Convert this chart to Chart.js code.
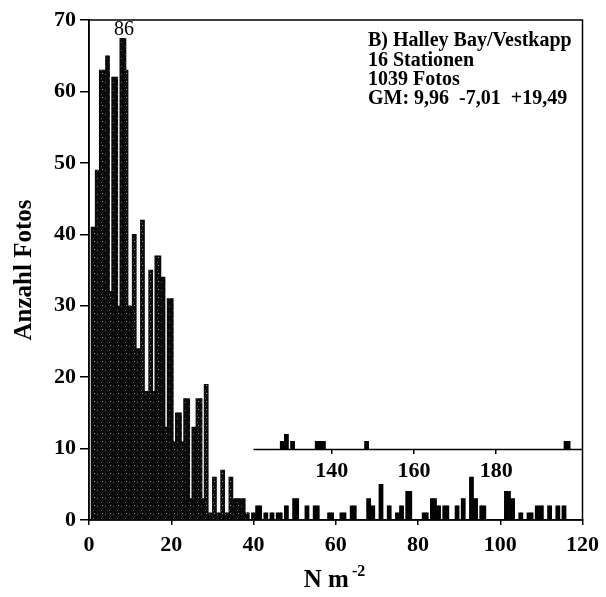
<!DOCTYPE html>
<html lang="de">
<head>
<meta charset="utf-8">
<title>Anzahl Fotos – Halley Bay/Vestkapp</title>
<script src="https://cdn.jsdelivr.net/npm/chart.js@4.4.1/dist/chart.umd.min.js"></script>
<style>
  html, body { margin: 0; padding: 0; background: #fff; }
</style>
</head>
<body>
<canvas id="chart-dichte" width="606" height="597"></canvas>
<script>
// Klassenbreite 0,5 N m-2, Wert = Anzahl Fotos je Klasse
var KLASSE = 0.5;

// Klassen 0 bis 40 N m-2 (Klassenanfang 0, 0.5, 1, ...)
var anzahlBis40 = [
    0, 41, 41, 49, 49, 63, 63, 63, 65, 65,
   32, 62, 62, 62, 30, 86, 86, 86, 63, 30,
   30, 40, 40, 24, 24, 42, 42, 18, 18, 35,
   35, 18, 37, 37, 37, 34, 34, 13, 31, 31,
   31, 11, 15, 15, 15, 11, 17, 17, 17,  3,
   13, 13, 17, 17, 17,  3, 19, 19,  1,  1,
    6,  6,  1,  1,  7,  7,  1,  1,  6,  6,
    3,  3,  3,  3,  3,  3,  1,  1,  0,  1
];

// Klassen 40 bis 120 N m-2
var anzahlAb40 = [
  1, 2, 2, 2, 0, 1, 1, 0, 1, 1,
  0, 1, 1, 1, 0, 2, 2, 0, 0, 3,
  3, 3, 0, 0, 0, 2, 2, 0, 0, 2,
  2, 2, 0, 0, 0, 0, 1, 1, 1, 0,
  0, 0, 1, 1, 1, 0, 0, 2, 2, 2,
  0, 0, 0, 0, 0, 3, 3, 2, 2, 0,
  0, 5, 5, 0, 0, 2, 2, 0, 0, 1,
  1, 2, 2, 0, 4, 4, 4, 0, 0, 0,
  0, 0, 1, 1, 1, 0, 3, 3, 3, 2,
  2, 0, 2, 2, 2, 0, 0, 0, 2, 2,
  0, 3, 3, 0, 0, 6, 6, 3, 3, 0,
  2, 2, 2, 0, 0, 0, 0, 0, 0, 0,
  0, 0, 4, 4, 4, 3, 3, 0, 0, 1,
  1, 0, 0, 1, 1, 1, 0, 2, 2, 2,
  2, 0, 0, 2, 2, 0, 0, 2, 2, 0,
  2, 2, 0, 0, 0, 0, 0, 0, 0, 0
];

// Werte über 120 N m-2 (Klassenanfang, Anzahl), eigene Achse auf Höhe y = 10
var ueber120Dichte = [127.5, 128, 128.5, 129, 130, 130.5, 136, 136.5, 137, 137.5, 138, 148, 148.5, 196.5, 197, 197.5];
var ueber120Anzahl = [1, 1, 2, 2, 1, 1, 1, 1, 1, 1, 1, 1, 1, 1, 1, 1];

var yTicks = [0, 10, 20, 30, 40, 50, 60, 70];
var xTicks = [0, 20, 40, 60, 80, 100, 120];
var insetTicks = [140, 160, 180];

var INSET_VON = 121;
var INSET_BIS = 201;
var INSET_Y = 10;
var Y_MAX = 70;
var KAPPE = 18; // hoechster Balken wird so viele px unter dem Rand abgeschnitten

var infoZeilen = ['B) Halley Bay/Vestkapp', '16 Stationen', '1039 Fotos', 'GM: 9,96  -7,01  +19,49'];

var SCHRIFT = 'Liberation Serif, Times New Roman, serif';

function klassen(werte, start) {
    return werte.map(function(n, i) {
        return { x: start + i * KLASSE + KLASSE / 2, y: n };
    });
}

// gepunktetes Schwarz wie im Druck
function punktMuster() {
    var c = document.createElement('canvas');
    c.width = 8; c.height = 8;
    var g = c.getContext('2d');
    g.fillStyle = '#0a0a0a';
    g.fillRect(0, 0, 8, 8);
    g.fillStyle = '#5e5e5e';
    g.fillRect(1, 2, 1, 1);
    g.fillRect(5, 6, 1, 1);
    g.fillStyle = '#9a9a9a';
    g.fillRect(6, 1, 1, 1);
    return g.createPattern(c, 'repeat');
}

var rahmen = {
    id: 'rahmen',
    afterDraw: function(chart) {
        var ctx = chart.ctx, a = chart.chartArea;
        ctx.save();
        ctx.strokeStyle = '#000';
        ctx.lineWidth = 1.5;
        ctx.strokeRect(a.left, a.top, a.right - a.left, a.bottom - a.top);

        // Grundlinie der Achse ueber 120
        var x2 = chart.scales.x2, y = chart.scales.y;
        var yl = Math.round(y.getPixelForValue(INSET_Y)) + 0.5;
        ctx.beginPath();
        ctx.moveTo(x2.getPixelForValue(INSET_VON), yl);
        ctx.lineTo(x2.getPixelForValue(INSET_BIS), yl);
        ctx.stroke();

        // Wert des abgeschnittenen Balkens
        var meta = chart.getDatasetMeta(0);
        var max = Math.max.apply(null, anzahlBis40);
        var xs = [];
        anzahlBis40.forEach(function(n, i) { if (n === max) xs.push(meta.data[i].x); });
        var xm = xs.reduce(function(s, v) { return s + v; }, 0) / xs.length;
        ctx.fillStyle = '#000';
        ctx.font = 'normal 20px ' + SCHRIFT;
        ctx.textAlign = 'center';
        ctx.textBaseline = 'bottom';
        ctx.fillText(String(max), xm + 1, a.top + KAPPE + 2);

        // Beschriftung oben rechts
        ctx.font = 'bold 20px ' + SCHRIFT;
        ctx.textAlign = 'left';
        ctx.textBaseline = 'middle';
        infoZeilen.forEach(function(t, i) {
            ctx.fillText(t, 368, 41 + i * 19.4);
        });

        // Achsentitel
        ctx.font = 'bold 25px ' + SCHRIFT;
        ctx.textAlign = 'center';
        ctx.save();
        ctx.translate(25, 270);
        ctx.rotate(-Math.PI / 2);
        ctx.fillText('Anzahl Fotos', 0, 0);
        ctx.restore();

        var haupt = 'N m', hoch = '-2';
        ctx.font = 'bold 25px ' + SCHRIFT;
        var w1 = ctx.measureText(haupt + ' ').width;
        ctx.font = 'bold 16px ' + SCHRIFT;
        var w2 = ctx.measureText(hoch).width;
        var x0 = 336 - (w1 + w2) / 2;
        ctx.textAlign = 'left';
        ctx.font = 'bold 25px ' + SCHRIFT;
        ctx.fillText(haupt, x0, 581);
        ctx.font = 'bold 16px ' + SCHRIFT;
        ctx.fillText(hoch, x0 + w1 - 3, 572);
        ctx.restore();
    }
};

var tickFont = { family: SCHRIFT, weight: 'bold', size: 22 };

var ctx = document.getElementById('chart-dichte').getContext('2d');
var chart = new Chart(ctx, {
    type: 'bar',
    data: {
        datasets: [{
            label: '0-40',
            data: klassen(anzahlBis40, 0),
            backgroundColor: punktMuster(),
            borderWidth: 0,
            clip: { left: 0, top: -KAPPE, right: 0, bottom: 0 }
        },
        {
            label: '40-120',
            data: klassen(anzahlAb40, 40),
            backgroundColor: '#000',
            borderWidth: 0
        },
        {
            label: '>120',
            xAxisID: 'x2',
            data: ueber120Dichte.map(function(d, i) {
                return { x: d + KLASSE / 2, y: [INSET_Y, INSET_Y + ueber120Anzahl[i]] };
            }),
            backgroundColor: '#000',
            borderWidth: 0
        }]
    },
    options: {
        responsive: false,
        animation: false,
        devicePixelRatio: 1,
        layout: { padding: { left: 0, right: 19, top: 20, bottom: 0 } },
        datasets: {
            bar: { grouped: false, barPercentage: 1, categoryPercentage: 1 }
        },
        plugins: {
            legend: { display: false },
            tooltip: { enabled: false }
        },
        scales: {
            x: {
                type: 'linear',
                min: 0,
                max: 120,
                offset: false,
                afterBuildTicks: function(ax) { ax.ticks = xTicks.map(function(v) { return { value: v }; }); },
                ticks: { color: '#000', font: tickFont, padding: 7, maxRotation: 0, autoSkip: false },
                grid: { display: true, drawOnChartArea: false, drawTicks: true, tickLength: 5, color: '#000', lineWidth: 1.5, offset: false },
                border: { display: true, color: '#000', width: 1.5 },
                afterFit: function(ax) { ax.height = 77; }
            },
            x2: {
                type: 'linear',
                position: { y: INSET_Y },
                min: INSET_VON - 40,
                max: INSET_BIS,
                offset: false,
                afterBuildTicks: function(ax) { ax.ticks = insetTicks.map(function(v) { return { value: v }; }); },
                ticks: { color: '#000', font: tickFont, padding: 5, maxRotation: 0, autoSkip: false },
                grid: { display: true, drawOnChartArea: false, drawTicks: true, tickLength: 5, color: '#000', lineWidth: 1.5, offset: false },
                border: { display: false }
            },
            y: {
                min: 0,
                max: Y_MAX,
                afterBuildTicks: function(ax) { ax.ticks = yTicks.map(function(v) { return { value: v }; }); },
                ticks: { color: '#000', font: tickFont, padding: 4 },
                grid: { display: true, drawOnChartArea: false, drawTicks: true, tickLength: 9, color: '#000', lineWidth: 1.5 },
                border: { display: true, color: '#000', width: 1.5 },
                afterFit: function(ax) { ax.width = 89; }
            }
        }
    },
    plugins: [rahmen]
});
</script>
</body>
</html>
